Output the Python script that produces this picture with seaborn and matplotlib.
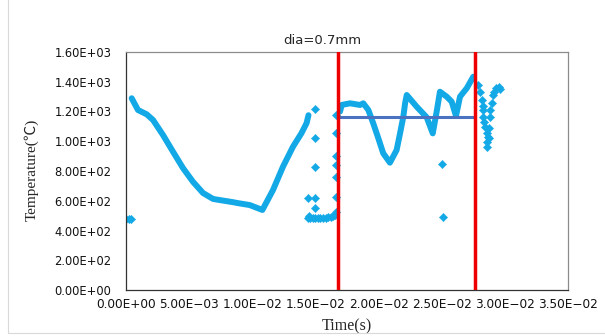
import matplotlib
matplotlib.use("Agg")
import matplotlib.pyplot as plt
import seaborn as sns
from matplotlib.ticker import FuncFormatter
from matplotlib.lines import Line2D

# ---- data ----
curve_a_t = [0.00045, 0.00095, 0.00164, 0.00214, 0.00293, 0.00372, 0.00451, 0.0053,
             0.0061, 0.0069, 0.0074, 0.0085, 0.0088, 0.0098, 0.0108, 0.01164, 0.01243,
             0.01322, 0.0139, 0.0143, 0.01445]
curve_a_T = [1289, 1210, 1181, 1143, 1042, 930, 820, 728,
             652, 612, 605, 590, 585, 571, 538, 672, 829,
             963, 1055, 1122, 1175]

curve_b_t = [0.01695, 0.01708, 0.01774, 0.01853, 0.01879, 0.01919, 0.01958, 0.01998,
             0.02037, 0.0209, 0.02143, 0.0217, 0.02196, 0.0221, 0.02223, 0.02302,
             0.02381, 0.02429, 0.0246, 0.02486, 0.02539, 0.02579, 0.02613, 0.02645,
             0.02698, 0.0275]
curve_b_T = [1200, 1244, 1255, 1244, 1255, 1210, 1120, 1020,
             919, 856, 941, 1053, 1165, 1255, 1311, 1232,
             1161, 1053, 1199, 1333, 1300, 1266, 1170, 1300,
             1356, 1434]

dots_t = [0.0000, 0.0002, 0.0004,
          0.01498, 0.01498, 0.01498, 0.01442, 0.01498, 0.01498, 0.01450,
          0.01442, 0.0146, 0.0148, 0.0150, 0.0152, 0.0154, 0.0156, 0.0158, 0.0160,
          0.0162, 0.0164, 0.01655,
          0.01663, 0.01663, 0.01663, 0.01663, 0.01663, 0.01663, 0.01663,
          0.02503, 0.02512,
          0.0279, 0.02805, 0.02817, 0.02823, 0.0283, 0.0283, 0.02838, 0.02843,
          0.02856, 0.02862, 0.02856, 0.02865, 0.02872, 0.02876, 0.0288, 0.02885,
          0.02896, 0.02906, 0.02915, 0.02932, 0.0295, 0.02962]
dots_T = [478, 480, 478,
          1217, 1020, 829, 618, 618, 551, 500,
          484, 484, 484, 484, 484, 486, 486, 486, 488,
          490, 495, 505,
          1176, 1055, 900, 840, 762, 627, 526,
          847, 493,
          1378, 1330, 1277, 1240, 1210, 1165, 1130, 1098,
          1053, 997, 963, 1030, 1020, 1090, 1165, 1210,
          1255, 1311, 1330, 1356, 1362, 1349]

red_t = [0.0168, 0.0276]
avg_t = [0.0168, 0.0276]
avg_T = [1165, 1165]

x_ticks = [0.0, 0.005, 0.010, 0.015, 0.020, 0.025, 0.030, 0.035]
y_ticks = [0, 200, 400, 600, 800, 1000, 1200, 1400, 1600]

title = "dia=0.7mm"
xlabel = "Time(s)"
ylabel = "Temperature(\u2103)"

# ---- drawing ----
sns.set_style("white")
plt.rcParams['font.family'] = ['DejaVu Sans']

blue = "#13A9E6"
fig = plt.figure(figsize=(6.05, 3.36), dpi=100)
ax = fig.add_axes([126/605, 1-290/336, (568-126)/605, (290-52)/336])

sns.lineplot(x=curve_a_t, y=curve_a_T, sort=False, estimator=None, ax=ax,
             color=blue, linewidth=4.3, solid_capstyle='round', solid_joinstyle='round')
sns.lineplot(x=curve_b_t, y=curve_b_T, sort=False, estimator=None, ax=ax,
             color=blue, linewidth=4.3, solid_capstyle='round', solid_joinstyle='round')
sns.scatterplot(x=dots_t, y=dots_T, ax=ax, marker='D', s=18, color=blue,
                edgecolor=blue, linewidth=0.3)
sns.lineplot(x=avg_t, y=avg_T, ax=ax, color="#4A72C0", linewidth=2.2)
for t in red_t:
    ax.axvline(t, color="#EE0000", linewidth=2.5, zorder=5)

ax.set_xlim(0, 0.035)
ax.set_ylim(0, 1600)
ax.set_xticks(x_ticks)
ax.set_yticks(y_ticks)
ax.xaxis.set_major_formatter(FuncFormatter(lambda v, p: f"{v:.2E}".replace('-', '\u2212')))
ax.yaxis.set_major_formatter(FuncFormatter(lambda v, p: f"{v:.2E}"))
ax.tick_params(axis='x', length=0, labelsize=8.7, colors='#111111', pad=6)
ax.tick_params(axis='y', length=0, labelsize=8.3, colors='#111111', pad=10.5)
for s in ['top', 'right']:
    ax.spines[s].set_color('#8c8c8c')
    ax.spines[s].set_linewidth(0.9)
for s in ['left', 'bottom']:
    ax.spines[s].set_color('#333333')
    ax.spines[s].set_linewidth(0.9)

serif = ['Liberation Serif', 'Noto Sans CJK JP']
ax.set_xlabel(xlabel, family=serif, fontsize=11.5)
ax.set_ylabel(ylabel, family=serif, fontsize=11)
ax.xaxis.label.set_va('center')
ax.yaxis.label.set_va('center')
ax.xaxis.set_label_coords(0.5, (290-326)/238)
ax.yaxis.set_label_coords((31-126)/442, (290-170)/238)
fig.text(322/605, 1-40/336, title, ha='center', va='center', fontsize=9.5)

# faint chart-area frame
fig.add_artist(Line2D([7.5/605, 7.5/605], [1-333/336, 1.0], transform=fig.transFigure,
                      color='#d9d9d9', linewidth=0.8))
fig.add_artist(Line2D([7.5/605, 1.0], [1-333/336, 1-333/336], transform=fig.transFigure,
                      color='#d9d9d9', linewidth=0.8))

fig.savefig("out.png", dpi=100)
